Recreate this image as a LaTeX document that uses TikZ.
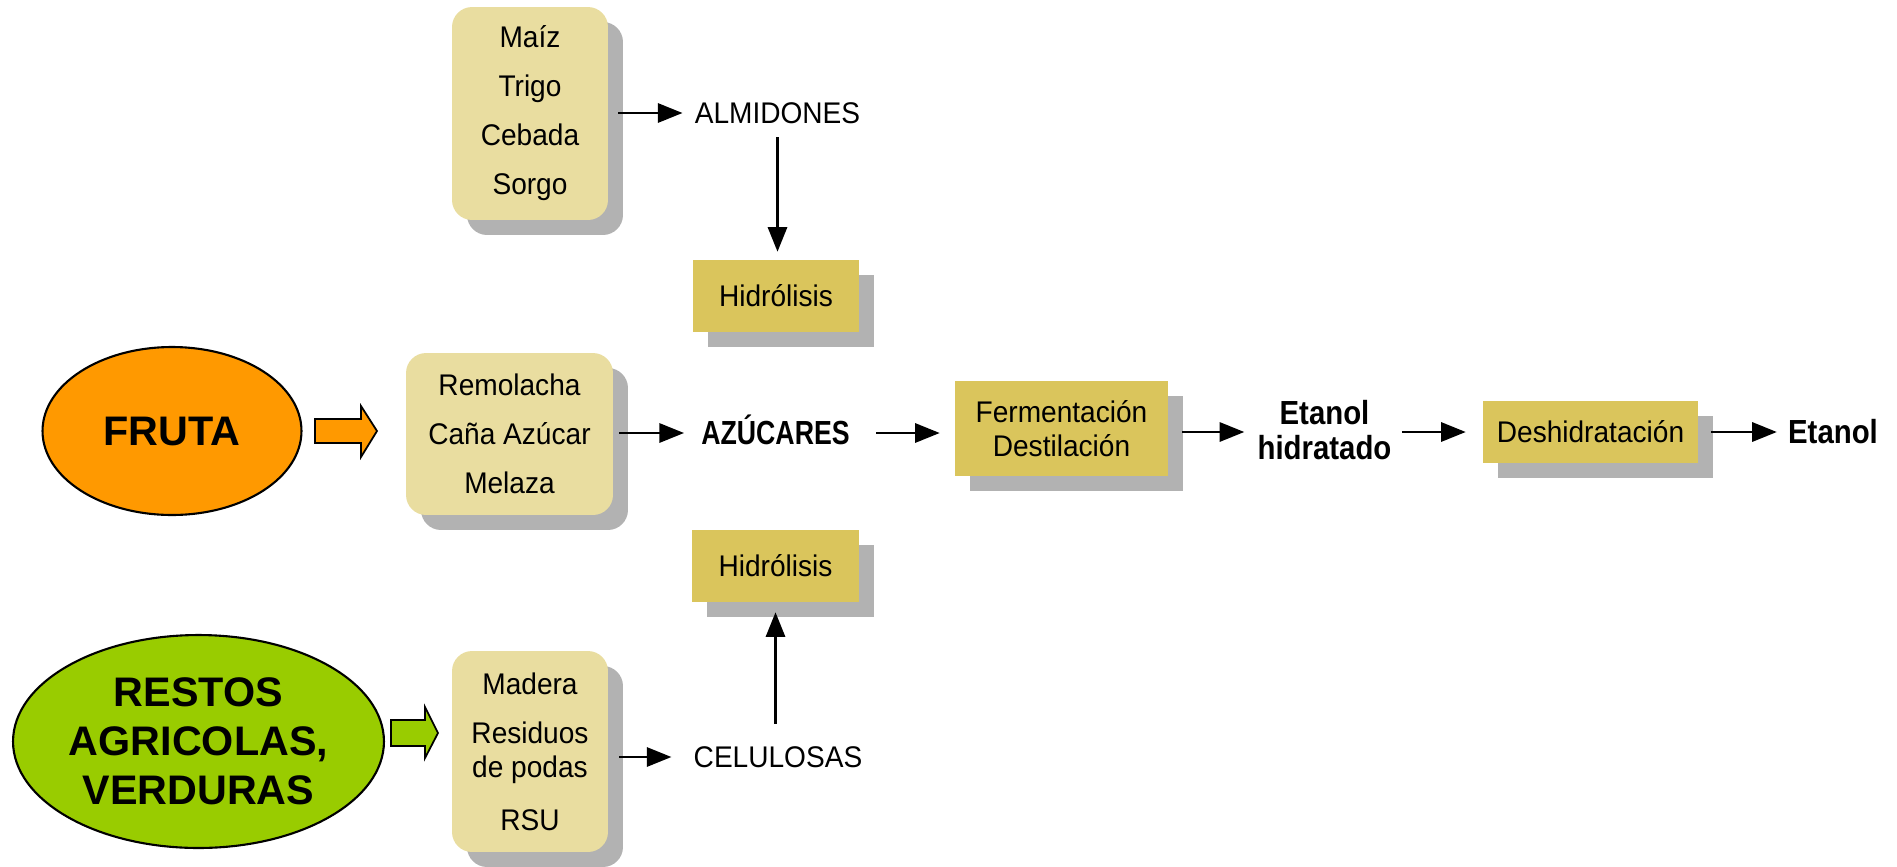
\documentclass[tikz,border=0pt]{standalone}
\usepackage{fontspec}
\setmainfont{Liberation Sans}
\newfontfamily\boxfont{Liberation Sans}[FakeStretch=0.94]
\newfontfamily\boldfont{Liberation Sans}[FakeStretch=0.88]
\newfontfamily\capsfont{Liberation Sans}[FakeStretch=0.8]
\usetikzlibrary{shapes.geometric,shadows,arrows.meta}
\definecolor{lightbox}{RGB}{233,221,160}
\definecolor{darkbox}{RGB}{218,197,92}
\definecolor{shadowgray}{RGB}{178,178,178}
\definecolor{fruitorange}{RGB}{255,153,0}
\definecolor{vegreen}{RGB}{153,204,0}
\tikzset{
  boxshadow/.style={drop shadow={shadow xshift=0.3cm, shadow yshift=-0.3cm, fill=shadowgray, opacity=1}},
  sourcebox/.style={fill=lightbox, rounded corners=0.4cm, align=center, inner sep=0pt,
    font=\boxfont\fontsize{17}{27.9}\selectfont, boxshadow},
  procbox/.style={fill=darkbox, align=center, inner sep=0pt,
    font=\boxfont\fontsize{17}{19.3}\selectfont, boxshadow},
  plaintext/.style={inner sep=0pt, font=\boxfont\fontsize{17}{19.5}\selectfont, text height=12.2pt, text depth=0pt},
  boldtext/.style={inner sep=0pt, align=center, font=\boldfont\bfseries\fontsize{19}{20}\selectfont},
  srcellipse/.style={ellipse, draw, line width=1.2pt, inner sep=0pt, align=center,
    font=\bfseries\fontsize{23.5}{28}\selectfont},
  blockarrow/.style={draw, line width=1pt, line join=miter},
  flowarrow/.style={line width=1.2pt, -{Triangle[length=14pt,width=11pt]}}
}
\begin{document}
\begin{tikzpicture}[x=0.02cm, y=-0.02cm]
\useasboundingbox (0,0) rectangle (1897,866);

% source boxes
\node[sourcebox, minimum width=3.12cm, minimum height=4.26cm] (cereal) at (530,113.5) {Maíz\\Trigo\\Cebada\\Sorgo};
\node[sourcebox, minimum width=4.14cm, minimum height=3.24cm] (remol) at (509.5,434) {Remolacha\\Caña Azúcar\\Melaza};
\node[sourcebox, minimum width=3.12cm, minimum height=4.02cm] (madera) at (530,751.5) {Madera\\Residuos\\[-8.5pt]de podas\\[2pt]RSU};

% process boxes
\node[procbox, minimum width=3.32cm, minimum height=1.44cm] (hidro1) at (776,296) {Hidrólisis};
\node[procbox, minimum width=3.34cm, minimum height=1.44cm] (hidro2) at (775.5,566) {Hidrólisis};
\node[procbox, minimum width=4.26cm, minimum height=1.9cm] (ferm) at (1061.5,428.5) {Fermentación\\Destilación};
\node[procbox, minimum width=4.3cm, minimum height=1.24cm] (deshid) at (1590.5,432) {Deshidratación};

% intermediate texts
\node[plaintext] (almid) at (777.5,113) {ALMIDONES};
\node[plaintext] (celul) at (778,757) {CELULOSAS};
\node[inner sep=0pt, font=\capsfont\bfseries\fontsize{19}{20}\selectfont, text height=13.6pt, text depth=0pt] (azuc) at (775.5,433) {AZÚCARES};
\node[boldtext] (etanolh) at (1324.5,430) {Etanol\\hidratado};
\node[boldtext, text height=13.6pt, text depth=0pt] (etanol) at (1833,432) {Etanol};

% source ellipses
\node[srcellipse, fill=fruitorange, minimum width=5.18cm, minimum height=3.36cm] (fruta) at (172,431) {FRUTA};
\node[srcellipse, fill=vegreen, minimum width=7.42cm, minimum height=4.26cm] (restos) at (198.5,741.5) {RESTOS\\AGRICOLAS,\\VERDURAS};

% block arrows
\draw[blockarrow, fill=fruitorange] (315,419) -- (361,419) -- (361,406) -- (377,431) -- (361,457) -- (361,443) -- (315,443) -- cycle;
\draw[blockarrow, fill=vegreen] (391,720) -- (425,720) -- (425,707) -- (438,733) -- (425,758) -- (425,746) -- (391,746) -- cycle;

% connectors
\draw[flowarrow, shorten <=0.2cm, shorten >=0.24cm] (cereal.east |- almid) -- (almid.west);
\draw[flowarrow, shorten <=0.26cm, shorten >=0.16cm] (almid.south) -- (almid.south |- hidro1.north);
\draw[flowarrow, shorten <=0.12cm, shorten >=0.34cm] (remol.east |- azuc) -- (azuc.west);
\draw[flowarrow, shorten <=0.52cm, shorten >=0.3cm] (azuc.east) -- (azuc.east -| ferm.west);
\draw[flowarrow, shorten <=0.28cm, shorten >=0.26cm] (ferm.east |- deshid) -- (etanolh.west |- deshid);
\draw[flowarrow, shorten <=0.2cm, shorten >=0.34cm] (etanolh.east |- deshid) -- (deshid.west);
\draw[flowarrow, shorten <=0.26cm, shorten >=0.22cm] (deshid.east) -- (deshid.east -| etanol.west);
\draw[flowarrow, shorten <=0.22cm, shorten >=0.44cm] (madera.east |- celul) -- (celul.west);
\draw[flowarrow, shorten <=0.44cm, shorten >=0.2cm] (celul.north -| hidro2.south) -- (hidro2.south);
\end{tikzpicture}
\end{document}
